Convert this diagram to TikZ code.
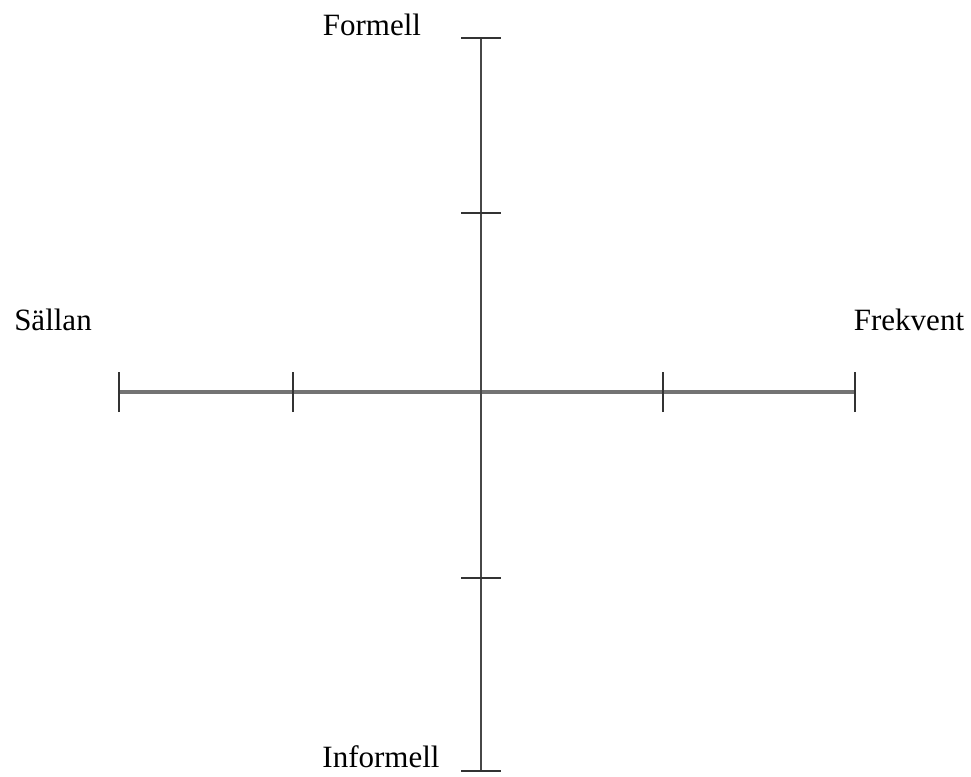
\documentclass[tikz,border=0pt]{standalone}
\usepackage{fontspec}
\setmainfont{Liberation Serif}
\begin{document}
\begin{tikzpicture}[x=1pt,y=-1pt,
  axisv/.style={draw=black!72,line width=2.6pt},
  axish/.style={draw=black!55,line width=3.6pt},
  tickmark/.style={draw=black!80,line width=2.6pt},
  lbl/.style={inner sep=0pt,font=\fontsize{31}{37}\selectfont}]
\useasboundingbox (0,0) rectangle (971,776);
% axis end points
\coordinate (T) at (481,38);
\coordinate (B) at (481,771);
\coordinate (L) at (119,392);
\coordinate (R) at (855,392);
\coordinate (v1) at (481,213);
\coordinate (v2) at (481,578);
\coordinate (h1) at (293,392);
\coordinate (h2) at (663,392);
% axes
\draw[axish] (L) -- (R);
\draw[axisv] (T) -- (B);
% ticks on vertical axis
\foreach \p in {T,v1,v2,B} \draw[tickmark] ([xshift=-20pt]\p) -- ([xshift=20pt]\p);
% ticks on horizontal axis
\foreach \p in {L,h1,h2,R} \draw[tickmark] ([yshift=-20pt]\p) -- ([yshift=20pt]\p);
% labels
\node[lbl,anchor=base] (formell) at (372,36) {Formell};
\node[lbl,anchor=base] (informell) at (381,767) {Informell};
\node[lbl,anchor=base] (sallan) at (53,330) {Sällan};
\node[lbl,anchor=base] (frekvent) at (909,330) {Frekvent};
\end{tikzpicture}
\end{document}
